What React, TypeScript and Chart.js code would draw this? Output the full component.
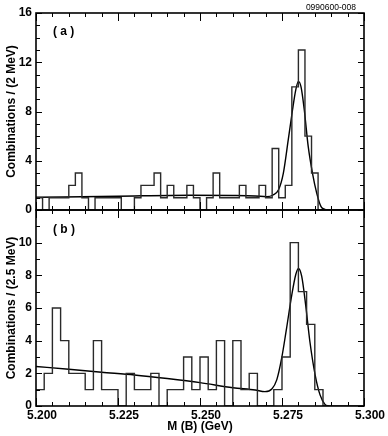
import React, { useEffect, useRef } from "react";
import { Chart, registerables } from "chart.js";

Chart.register(...registerables);

// ---------- data ----------
const X_MIN = 5.2;
const X_MAX = 5.3;
const xTickValues = [5.2, 5.225, 5.25, 5.275, 5.3];
const xTickLabels = ["5.200", "5.225", "5.250", "5.275", "5.300"];

const topYTicks = [0, 4, 8, 12, 16];
const bottomYTicks = [0, 2, 4, 6, 8, 10];

// panel (a): 2 MeV bins from 5.200 GeV
const topBinWidth = 0.002;
const topCounts = [
  1, 0, 1, 1, 1, 2, 3, 1, 0, 1,
  1, 1, 1, 0, 0, 1, 2, 2, 3, 1,
  2, 1, 1, 2, 1, 0, 1, 3, 1, 1,
  1, 2, 1, 1, 2, 1, 5, 1, 2, 10,
  13, 6, 3, 0, 0, 0, 0, 0, 0, 0,
];

// panel (b): 2.5 MeV bins from 5.200 GeV
const bottomBinWidth = 0.0025;
const bottomCounts = [
  1, 2, 6, 4, 2, 2, 1, 4, 1, 1,
  0, 2, 1, 1, 2, 0, 1, 1, 3, 1,
  3, 1, 4, 0, 4, 1, 2, 0, 0, 1,
  3, 10, 7, 5, 1, 0, 0, 0, 0, 0,
];

// fitted curves
const topFitX = [
  5.2, 5.225, 5.247, 5.26, 5.2668, 5.2703, 5.2723, 5.2739, 5.2754, 5.2769,
  5.2782, 5.2792, 5.28, 5.2808, 5.2818, 5.283, 5.2843, 5.2856, 5.2869, 5.2881, 5.2886,
];
const topFitY = [
  1.03, 1.12, 1.2, 1.18, 1.14, 1.08, 1.22, 1.62, 2.98, 5.69,
  8.12, 9.75, 10.45, 10.0, 8.12, 5.14, 2.98, 1.35, 0.27, 0.05, 0,
];

const bottomFitX = [
  5.2, 5.21, 5.22, 5.23, 5.24, 5.25, 5.26, 5.2668, 5.2698, 5.2719, 5.2734,
  5.2749, 5.2764, 5.278, 5.2792, 5.28, 5.281, 5.2822, 5.2835, 5.2851, 5.2866,
  5.2881, 5.2893,
];
const bottomFitY = [
  2.42, 2.25, 2.07, 1.9, 1.68, 1.43, 1.12, 0.98, 0.88, 1.04, 1.6,
  2.93, 4.77, 6.82, 8.05, 8.42, 7.95, 6.21, 3.95, 1.91, 0.68,
  0.1, 0,
];

// ---------- helpers ----------
const FONT = '"Liberation Sans", Arial, Helvetica, sans-serif';

function makeHist(start: number, width: number, counts: number[]) {
  const pts = counts.map((c, i) => ({ x: start + i * width, y: c }));
  pts.push({ x: start + counts.length * width, y: 0 });
  return pts;
}
function makeCurve(xs: number[], ys: number[]) {
  return xs.map((x, i) => ({ x, y: ys[i] }));
}

const panelPlugin = {
  id: "panelFrame",
  afterDatasetsDraw(chart: any, _args: any, opts: any) {
    const { ctx, chartArea } = chart;
    const { left, right, top, bottom } = chartArea;
    const xs = chart.scales.x;
    const ys = chart.scales.y;
    ctx.save();
    ctx.strokeStyle = "#000";
    ctx.lineWidth = 1;
    ctx.beginPath();
    for (let k = 0; k <= 20; k++) {
      const v = X_MIN + k * 0.005;
      const px = Math.round(xs.getPixelForValue(v)) + 0.5;
      const len = k % 5 === 0 ? 8 : 4;
      ctx.moveTo(px, top);
      ctx.lineTo(px, top + len);
      ctx.moveTo(px, bottom);
      ctx.lineTo(px, bottom - len);
    }
    for (let k = 0; k <= opts.yMax; k++) {
      const py = Math.round(ys.getPixelForValue(k)) + 0.5;
      const len = k % opts.yMajor === 0 ? 6 : 4;
      ctx.moveTo(left, py);
      ctx.lineTo(left + len, py);
      ctx.moveTo(right, py);
      ctx.lineTo(right - len, py);
    }
    ctx.stroke();
    ctx.lineWidth = 1.6;
    ctx.strokeRect(left, top, right - left, bottom - top);

    ctx.fillStyle = "#000";
    ctx.font = `bold 12px ${FONT}`;
    ctx.textAlign = "left";
    ctx.textBaseline = "middle";
    ctx.fillText(opts.label, left + 17, top + opts.labelDy);
    if (opts.code) {
      ctx.font = `8.5px ${FONT}`;
      ctx.textAlign = "right";
      ctx.fillText(opts.code, right - 8, 8);
    }
    ctx.restore();
  },
};

function makeConfig(
  hist: { x: number; y: number }[],
  fit: { x: number; y: number }[],
  yMax: number,
  yTicks: number[],
  yMajor: number,
  yTitle: string,
  label: string,
  labelDy: number,
  code: string | null,
  showX: boolean,
  padding: any
): any {
  return {
    type: "line",
    data: {
      datasets: [
        {
          data: hist,
          stepped: "before",
          borderColor: "#2a2a2a",
          borderWidth: 1.4,
          pointRadius: 0,
          fill: false,
        },
        {
          data: fit,
          borderColor: "#000",
          borderWidth: 1.4,
          pointRadius: 0,
          fill: false,
          cubicInterpolationMode: "monotone",
        },
      ],
    },
    options: {
      responsive: false,
      animation: false,
      events: [],
      devicePixelRatio: 1,
      layout: { padding },
      plugins: {
        legend: { display: false },
        tooltip: { enabled: false },
        panelFrame: { yMax, yMajor, label, labelDy, code },
      },
      scales: {
        x: {
          type: "linear",
          min: X_MIN,
          max: X_MAX,
          display: showX,
          grid: { display: false, drawTicks: false },
          border: { display: false },
          afterBuildTicks: (s: any) => {
            s.ticks = xTickValues.map((v) => ({ value: v }));
          },
          afterFit: (s: any) => {
            s.height = showX ? 30 : 0;
          },
          ticks: {
            autoSkip: false,
            maxRotation: 0,
            padding: 2,
            labelOffset: 6,
            color: "#000",
            font: { family: FONT, size: 12, weight: "bold" },
            callback: (_v: any, i: number) => xTickLabels[i],
          },
          title: {
            display: true,
            text: "M (B) (GeV)",
            color: "#000",
            font: { family: FONT, size: 12, weight: "bold" },
            padding: { top: 0, bottom: 2 },
          },
        },
        y: {
          type: "linear",
          min: 0,
          max: yMax,
          grid: { display: false, drawTicks: false },
          border: { display: false },
          afterBuildTicks: (s: any) => {
            s.ticks = yTicks.map((v) => ({ value: v }));
          },
          afterFit: (s: any) => {
            s.width = 36;
          },
          ticks: {
            autoSkip: false,
            padding: 4,
            color: "#000",
            font: { family: FONT, size: 12, weight: "bold" },
          },
          title: {
            display: true,
            text: yTitle,
            color: "#000",
            font: { family: FONT, size: 12, weight: "bold" },
            padding: { top: 4, bottom: 0 },
          },
        },
      },
    },
    plugins: [panelPlugin],
  };
}

export default function App() {
  const topRef = useRef<HTMLCanvasElement>(null);
  const botRef = useRef<HTMLCanvasElement>(null);

  useEffect(() => {
    const top = new Chart(
      topRef.current as HTMLCanvasElement,
      makeConfig(
        makeHist(X_MIN, topBinWidth, topCounts),
        makeCurve(topFitX, topFitY),
        16,
        topYTicks,
        4,
        "Combinations / (2 MeV)",
        "( a )",
        19,
        "0990600-008",
        false,
        { left: 0, right: 24, top: 13, bottom: 12 }
      )
    );
    const bot = new Chart(
      botRef.current as HTMLCanvasElement,
      makeConfig(
        makeHist(X_MIN, bottomBinWidth, bottomCounts),
        makeCurve(bottomFitX, bottomFitY),
        12,
        bottomYTicks,
        2,
        "Combinations / (2.5 MeV)",
        "( b )",
        19.5,
        null,
        true,
        { left: 0, right: 24, top: 12, bottom: 0 }
      )
    );
    return () => {
      top.destroy();
      bot.destroy();
    };
  }, []);

  return (
    <div
      style={{
        position: "absolute",
        left: 0,
        top: 0,
        width: 388,
        height: 436,
        background: "#fff",
      }}
    >
      <canvas
        ref={topRef}
        width={388}
        height={222}
        style={{ position: "absolute", left: 0, top: 0, width: 388, height: 222 }}
      />
      <canvas
        ref={botRef}
        width={388}
        height={238}
        style={{ position: "absolute", left: 0, top: 198, width: 388, height: 238 }}
      />
    </div>
  );
}
